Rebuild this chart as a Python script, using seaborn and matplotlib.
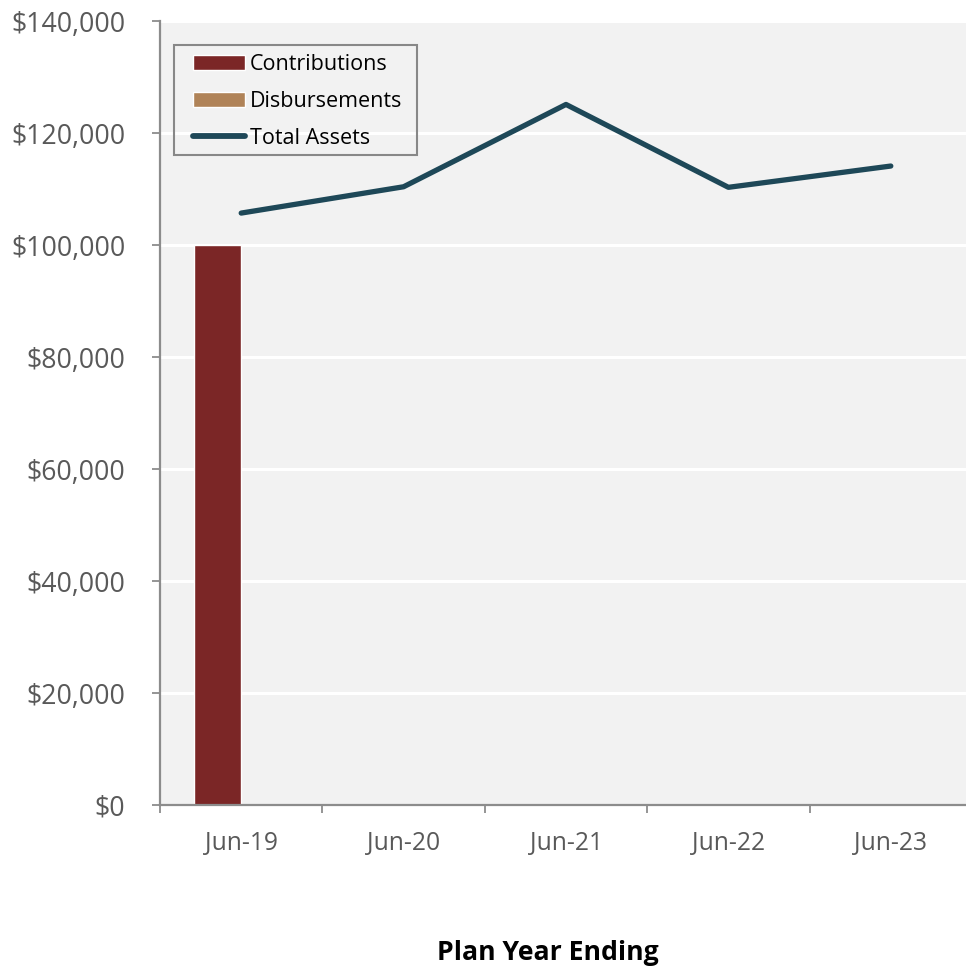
import numpy as np
import pandas as pd
import matplotlib
matplotlib.use("Agg")
import matplotlib.pyplot as plt
import seaborn as sns
from matplotlib.patches import Rectangle
from matplotlib.ticker import FuncFormatter, FixedLocator

# -----------------------------
# DATA
# -----------------------------
years = ["Jun-19", "Jun-20", "Jun-21", "Jun-22", "Jun-23"]
contributions = [100000, 0, 0, 0, 0]
disbursements = [0, 0, 0, 0, 0]
total_assets = [105700, 110400, 125100, 110300, 114100]

bars = pd.DataFrame({
    "Year": years * 2,
    "Amount": contributions + disbursements,
    "Type": ["Contributions"] * len(years) + ["Disbursements"] * len(years),
})
line = pd.DataFrame({"pos": np.arange(len(years)), "Total Assets": total_assets})

# -----------------------------
# STYLE
# -----------------------------
sns.set_style("white")
plt.rcParams["font.family"] = ["Open Sans", "DejaVu Sans"]

tick_color = "#595959"
spine_color = "#8c8c8c"

fig = plt.figure(figsize=(9.66, 9.68), dpi=100)
ax = fig.add_axes([160 / 966, 1 - 805 / 968, 812 / 966, 784 / 968])
ax.set_facecolor("#f2f2f2")

sns.barplot(
    data=bars, x="Year", y="Amount", hue="Type",
    palette=["#7b2626", "#b08358"], width=0.58, ax=ax,
    saturation=1, legend=True,
)
sns.lineplot(
    data=line, x="pos", y="Total Assets", color="#1e4858",
    linewidth=3.8, label="Total Assets", ax=ax,
)

ax.set_xlim(-0.5, 4.5)
ax.set_ylim(0, 140000)
ax.set_yticks(np.arange(0, 140001, 20000))
ax.yaxis.set_major_formatter(FuncFormatter(lambda v, p: f"${v:,.0f}"))
ax.grid(axis="y", color="white", linewidth=2.2)
ax.set_axisbelow(True)

# category boundaries as ticks, labels in between
ax.xaxis.set_major_locator(FixedLocator(np.arange(-0.5, 5, 1)))
ax.xaxis.set_minor_locator(FixedLocator(np.arange(0, 5)))
ax.set_xticklabels([""] * 6)
ax.set_xticklabels(years, minor=True)
ax.tick_params(axis="x", which="major", length=6, width=1.3, color=spine_color, direction="out")
ax.tick_params(axis="x", which="minor", length=0, pad=19, labelsize=17.7, labelcolor=tick_color)
ax.tick_params(axis="y", length=6, width=1.3, color=spine_color, direction="out",
               pad=19, labelsize=19.2, labelcolor=tick_color)
ax.tick_params(bottom=True, left=True)

for s in ["top", "right"]:
    ax.spines[s].set_visible(False)
for s in ["left", "bottom"]:
    ax.spines[s].set_color(spine_color)
    ax.spines[s].set_linewidth(1.6)

ax.set_xlabel("")
ax.set_ylabel("")

# legend without its own frame, box drawn around it
handles, labels = ax.get_legend_handles_labels()
order = [labels.index(l) for l in ["Contributions", "Disbursements", "Total Assets"]]
leg = ax.legend(
    [handles[i] for i in order], [labels[i] for i in order],
    loc="upper left", bbox_to_anchor=((193 - 160) / 812, (805 - 54) / 784),
    borderaxespad=0, borderpad=0, frameon=False,
    fontsize=15.5, handlelength=2.4, handleheight=0.7, handletextpad=0.25,
    labelspacing=0.74, labelcolor="black",
)
for lh in leg.get_lines():
    lh.set_linewidth(4.2)
    lh.set_solid_capstyle("round")
fig.patches.append(Rectangle(
    (174 / 966, 1 - 155 / 968), 243 / 966, 110 / 968, transform=fig.transFigure,
    fill=False, edgecolor="#888888", linewidth=1.5, zorder=5,
))

fig.text(548 / 966, 1 - 953 / 968, "Plan Year Ending", ha="center", va="center",
         fontsize=19.2, fontweight="bold", color="black")

fig.savefig("out.png", dpi=100)
